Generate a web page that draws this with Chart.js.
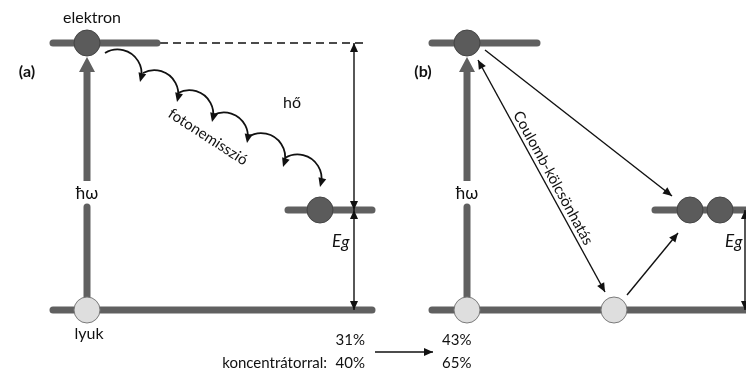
<!DOCTYPE html>
<html>
<head>
<meta charset="utf-8">
<script src="https://cdn.jsdelivr.net/npm/chart.js@4.4.1/dist/chart.umd.min.js"></script>
<style>
  html, body { margin: 0; background: #fff; }
  canvas { display: block; }
</style>
</head>
<body>
<canvas id="diagram" width="746" height="368"></canvas>
<script>
// ---- DATA ----
// x runs across the figure, E is energy in units of Eg (valence band = 0)
const barX0 = [53, 288, 53, 432, 655, 432];
const barX1 = [157, 372, 372, 537, 746, 746];
const barE = [2.67, 1, 0, 2.67, 1, 0];

const electronX = [87, 320, 467, 690, 720];
const electronE = [2.67, 1, 2.67, 1, 1];
const holeX = [87, 467, 614];
const holeE = [0, 0, 0];

// photon absorption (thick arrows), broken for the ħω label
const photonX = [87, 467];
const photonGap = [1.03, 1.29];
const photonHeadBase = 2.38;

// thin arrows; heads: 1 = at end, 2 = both ends
const arrowX0 = [354, 354, 745, 478, 485, 627, 375];
const arrowE0 = [2.67, 1, 1, 2.50, 2.60, 0.15, -0.42];
const arrowX1 = [354, 354, 745, 605, 672, 678, 433];
const arrowE1 = [1, 0, 0, 0.18, 1.14, 0.77, -0.42];
const arrowHeads = [2, 2, 2, 2, 1, 1, 1];

// phonon emission hops in (a)
const hopX0 = [105, 143, 178, 213, 248, 285];
const hopE0 = [2.57, 2.37, 2.17, 1.95, 1.73, 1.52];
const hopX1 = [140, 177, 212, 247, 283, 320];
const hopE1 = [2.28, 2.08, 1.88, 1.67, 1.43, 1.23];

const dashX = [160, 367];

const effNormal = ['31%', '43%'];
const effConc = ['40%', '65%'];

const GRAY = '#606060';
const FONT = 'Lato, "Open Sans", sans-serif';

// ---- DATASETS ----
const datasets = [];

// circles on top
datasets.push({
  data: electronX.map((x, i) => ({x, y: electronE[i]})),
  pointRadius: 13, backgroundColor: '#5b5b5b', borderColor: '#454545', borderWidth: 1, order: 0
});
datasets.push({
  data: holeX.map((x, i) => ({x, y: holeE[i]})),
  pointRadius: 13, backgroundColor: '#dedede', borderColor: '#7a7a7a', borderWidth: 1, order: 0
});

barX0.forEach((x0, i) => datasets.push({
  data: [{x: x0, y: barE[i]}, {x: barX1[i], y: barE[i]}],
  showLine: true, pointRadius: 0, borderColor: GRAY, borderWidth: 7,
  borderCapStyle: 'round', order: 5
}));

photonX.forEach(x => {
  datasets.push({
    data: [{x, y: 0}, {x, y: photonGap[0]}],
    showLine: true, pointRadius: 0, borderColor: GRAY, borderWidth: 7,
    borderCapStyle: 'round', order: 4
  });
  datasets.push({
    data: [{x, y: photonGap[1]}, {x, y: photonHeadBase}],
    showLine: true, pointRadius: 0, borderColor: GRAY, borderWidth: 7,
    borderCapStyle: 'butt', order: 4, heads: 1, headLen: 15, headW: 8, headColor: GRAY
  });
});

datasets.push({
  data: dashX.map(x => ({x, y: barE[0]})),
  showLine: true, pointRadius: 0, borderColor: '#111', borderWidth: 1.5,
  borderDash: [8, 5], order: 6
});

arrowX0.forEach((x0, i) => datasets.push({
  data: [{x: x0, y: arrowE0[i]}, {x: arrowX1[i], y: arrowE1[i]}],
  showLine: true, pointRadius: 0, borderColor: '#111', borderWidth: 1.4,
  order: 3, heads: arrowHeads[i], headLen: 9, headW: 4, headColor: '#111'
}));

// ---- PLUGINS ----
function head(ctx, tx, ty, ux, uy, len, w, color) {
  ctx.beginPath();
  ctx.moveTo(tx, ty);
  ctx.lineTo(tx - ux * len - uy * w, ty - uy * len + ux * w);
  ctx.lineTo(tx - ux * len + uy * w, ty - uy * len - ux * w);
  ctx.closePath();
  ctx.fillStyle = color;
  ctx.fill();
}

const arrowHeadPlugin = {
  id: 'arrowHeads',
  afterDatasetsDraw(chart) {
    const ctx = chart.ctx;
    chart.data.datasets.forEach((ds, i) => {
      if (!ds.heads) return;
      const pts = chart.getDatasetMeta(i).data;
      const a = pts[0], b = pts[pts.length - 1];
      const d = Math.hypot(b.x - a.x, b.y - a.y);
      const ux = (b.x - a.x) / d, uy = (b.y - a.y) / d;
      ctx.save();
      if (ds.headColor === GRAY) {
        // thick arrow: head sits on top of the shaft end
        head(ctx, b.x + ux * ds.headLen, b.y + uy * ds.headLen, ux, uy, ds.headLen, ds.headW, ds.headColor);
      } else {
        head(ctx, b.x, b.y, ux, uy, ds.headLen, ds.headW, ds.headColor);
        if (ds.heads === 2) head(ctx, a.x, a.y, -ux, -uy, ds.headLen, ds.headW, ds.headColor);
      }
      ctx.restore();
    });
  }
};

const hopPlugin = {
  id: 'hops',
  afterDatasetsDraw(chart) {
    const {ctx, scales: {x, y}} = chart;
    const r = 24;
    ctx.save();
    ctx.strokeStyle = '#111';
    ctx.lineWidth = 1.8;
    hopX0.forEach((x0, i) => {
      const sx = x.getPixelForValue(x0), sy = y.getPixelForValue(hopE0[i]);
      const ex = x.getPixelForValue(hopX1[i]), ey = y.getPixelForValue(hopE1[i]);
      const mx = (sx + ex) / 2, my = (sy + ey) / 2;
      const cl = Math.hypot(ex - sx, ey - sy);
      const nx = -(ey - sy) / cl, ny = (ex - sx) / cl;
      const off = Math.sqrt(Math.max(r * r - cl * cl / 4, 0));
      const cx = mx + nx * off, cy = my + ny * off;
      const a0 = Math.atan2(sy - cy, sx - cx);
      const a1 = Math.atan2(ey - cy, ex - cx);
      ctx.beginPath();
      ctx.arc(cx, cy, r, a0, a1 - 0.2, false);
      ctx.stroke();
      head(ctx, ex, ey, -Math.sin(a1 - 0.1), Math.cos(a1 - 0.1), 9, 4, '#111');
    });
    ctx.restore();
  }
};

const labels = [
  {t: 'elektron', x: 92, e: 2.92, font: '16px ' + FONT},
  {t: '(a)', x: 27, e: 2.38, font: 'bold 16px ' + FONT},
  {t: '(b)', x: 423, e: 2.38, font: 'bold 16px ' + FONT},
  {t: 'hő', x: 292, e: 2.07, font: '16px ' + FONT},
  {t: 'fotonemisszió', x: 208, e: 1.73, font: '15px ' + FONT, rot: 33},
  {t: 'Coulomb-kölcsönhatás', x: 553, e: 1.32, font: '15px ' + FONT, rot: 61.3},
  {t: 'ħω', x: photonX[0], e: 1.16, font: '17px ' + FONT},
  {t: 'ħω', x: photonX[1], e: 1.16, font: '17px ' + FONT},
  {t: 'lyuk', x: 89, e: -0.24, font: '16px ' + FONT},
  {t: effNormal[0], x: 365, e: -0.30, font: '15px ' + FONT, align: 'right'},
  {t: 'koncentrátorral:', x: 327, e: -0.53, font: '15px ' + FONT, align: 'right'},
  {t: effConc[0], x: 365, e: -0.53, font: '15px ' + FONT, align: 'right'},
  {t: effNormal[1], x: 442, e: -0.30, font: '15px ' + FONT, align: 'left'},
  {t: effConc[1], x: 442, e: -0.53, font: '15px ' + FONT, align: 'left'}
];
const egLabelX = [332, 725];

const labelPlugin = {
  id: 'labels',
  afterDatasetsDraw(chart) {
    const {ctx, scales: {x, y}} = chart;
    ctx.save();
    ctx.fillStyle = '#111';
    ctx.textBaseline = 'middle';
    labels.forEach(l => {
      ctx.save();
      ctx.translate(x.getPixelForValue(l.x), y.getPixelForValue(l.e));
      if (l.rot) ctx.rotate(l.rot * Math.PI / 180);
      ctx.font = l.font;
      ctx.textAlign = l.align || 'center';
      ctx.fillText(l.t, 0, 0);
      ctx.restore();
    });
    // E_g labels
    ctx.textAlign = 'left';
    ctx.textBaseline = 'alphabetic';
    egLabelX.forEach(ex => {
      const px = x.getPixelForValue(ex), py = y.getPixelForValue(0.63);
      ctx.font = 'italic 17px ' + FONT;
      ctx.fillText('E', px, py);
      const w = ctx.measureText('E').width;
      ctx.fillText('g', px + w, py + 1);
    });
    ctx.restore();
  }
};

new Chart(document.getElementById('diagram'), {
  type: 'scatter',
  data: {datasets},
  options: {
    responsive: false,
    animation: false,
    devicePixelRatio: 1,
    events: [],
    layout: {padding: 0, autoPadding: false},
    plugins: {legend: {display: false}, tooltip: {enabled: false}},
    elements: {point: {hoverRadius: 0}},
    datasets: {scatter: {clip: false}},
    scales: {
      x: {type: 'linear', min: 0, max: 746, display: false},
      y: {type: 'linear', min: -0.58, max: 3.10, display: false}
    }
  },
  plugins: [hopPlugin, arrowHeadPlugin, labelPlugin]
});
</script>
</body>
</html>
